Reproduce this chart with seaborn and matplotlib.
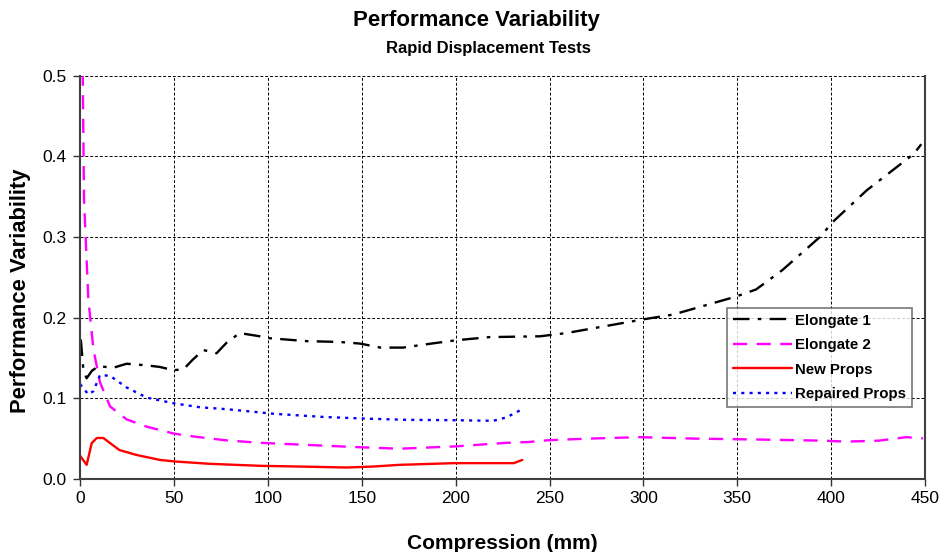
import numpy as np
import pandas as pd
import matplotlib
matplotlib.use("Agg")
import matplotlib.pyplot as plt
import seaborn as sns

# values
e1_x = [0.4, 1.8, 3.5, 6.2, 9.7, 17.7, 24.8, 35.5, 42.5, 49.6, 55, 60, 65.6, 72.7, 78, 85,
        95.7, 99, 120.6, 138, 149, 160, 172, 184, 200, 218, 245, 259, 300, 316, 349, 360,
        374, 394, 401, 419, 444, 448]
e1_y = [0.173, 0.134, 0.125, 0.134, 0.140, 0.138, 0.143, 0.141, 0.139, 0.135, 0.136, 0.148,
        0.160, 0.156, 0.169, 0.181, 0.177, 0.175, 0.171, 0.170, 0.168, 0.163, 0.163, 0.167,
        0.172, 0.176, 0.177, 0.181, 0.198, 0.204, 0.226, 0.235, 0.259, 0.300, 0.319, 0.358,
        0.403, 0.415]

e2_x = [1.4, 2.1, 4.4, 7.1, 10.6, 16, 24.8, 35.5, 49.8, 60, 78, 96, 120, 147, 170, 200,
        227, 239, 248, 257, 275, 298, 328, 363, 395, 408, 425.5, 440, 449]
e2_y = [0.505, 0.346, 0.223, 0.161, 0.120, 0.090, 0.074, 0.065, 0.0565, 0.053, 0.048, 0.045,
        0.0425, 0.0397, 0.0377, 0.0406, 0.045, 0.046, 0.048, 0.049, 0.0505, 0.052, 0.0502,
        0.049, 0.0477, 0.0465, 0.0477, 0.052, 0.0505]

new_x = [0, 3.5, 6.2, 8.9, 12.4, 16, 21, 30, 42.5, 51, 69, 96, 117, 142, 156, 170, 199,
         231, 235.5]
new_y = [0.029, 0.0177, 0.0446, 0.051, 0.051, 0.0446, 0.036, 0.030, 0.0238, 0.0218, 0.019,
         0.0165, 0.0156, 0.0144, 0.0156, 0.0177, 0.0198, 0.0198, 0.0238]

rep_x = [0, 4.4, 7.1, 10.6, 16, 24.8, 35.5, 49.8, 64, 78, 96, 103, 130, 152, 174, 200, 220,
         227, 235.5]
rep_y = [0.1177, 0.105, 0.109, 0.129, 0.128, 0.1136, 0.101, 0.094, 0.089, 0.0867, 0.0826,
         0.081, 0.077, 0.075, 0.0735, 0.073, 0.0723, 0.0764, 0.0867]

x_ticks = [0, 50, 100, 150, 200, 250, 300, 350, 400, 450]
y_ticks = [0.0, 0.1, 0.2, 0.3, 0.4, 0.5]

sns.set_style("white")
plt.rcParams["font.family"] = ["Liberation Sans", "DejaVu Sans"]
plt.rcParams.update({"text.color": "black", "axes.labelcolor": "black",
                     "xtick.color": "black", "ytick.color": "black"})

fig = plt.figure(figsize=(9.42, 5.52), dpi=100)
ax = fig.add_axes([0.085, 0.132, 0.897, 0.731])

series = [
    ("Elongate 1", e1_x, e1_y, "black", (0, (7, 3.5, 1.5, 3.5))),
    ("Elongate 2", e2_x, e2_y, "#ff00ff", (0, (6, 4))),
    ("New Props", new_x, new_y, "red", "-"),
    ("Repaired Props", rep_x, rep_y, "blue", (0, (1.3, 2.2))),
]
for name, xs, ys, col, ls in series:
    sns.lineplot(x=xs, y=ys, ax=ax, color=col, linestyle=ls, linewidth=1.7,
                 estimator=None, sort=False, label=name)

ax.set_xlim(0, 450)
ax.set_ylim(0, 0.5)
ax.set_xticks(x_ticks)
ax.set_yticks(y_ticks)
ax.set_yticklabels([f"{v:.1f}" for v in y_ticks])
ax.tick_params(axis="both", labelsize=12.5, direction="out", length=5, width=1,
               color="#333333", bottom=True, left=True)
ax.tick_params(axis="y", pad=5)
ax.grid(True, color="black", linestyle=(0, (3, 2)), linewidth=0.7)
for side in ["left", "bottom", "right"]:
    ax.spines[side].set_color("#404040")
    ax.spines[side].set_linewidth(1.5)
ax.spines["top"].set_visible(False)

ax.set_xlabel("Compression (mm)", fontsize=15, fontweight="bold", labelpad=20)
ax.set_ylabel("Performance Variability", fontsize=15.8, fontweight="bold")
ax.yaxis.set_label_coords(-0.058, 0.468)

fig.text(0.506, 0.962, "Performance Variability", ha="center", va="center",
         fontsize=16, fontweight="bold")
fig.text(0.518, 0.913, "Rapid Displacement Tests", ha="center", va="center",
         fontsize=12, fontweight="bold")

leg = ax.legend(loc="upper left", bbox_to_anchor=(0.766, 0.425), frameon=True,
                fancybox=False, prop={"weight": "bold", "size": 10.8}, handlelength=3.9,
                borderpad=0.4, labelspacing=0.7, handletextpad=0.2, borderaxespad=0)
leg.get_frame().set_edgecolor("#555555")
leg.get_frame().set_linewidth(1.2)

fig.savefig("out.png", dpi=100)
